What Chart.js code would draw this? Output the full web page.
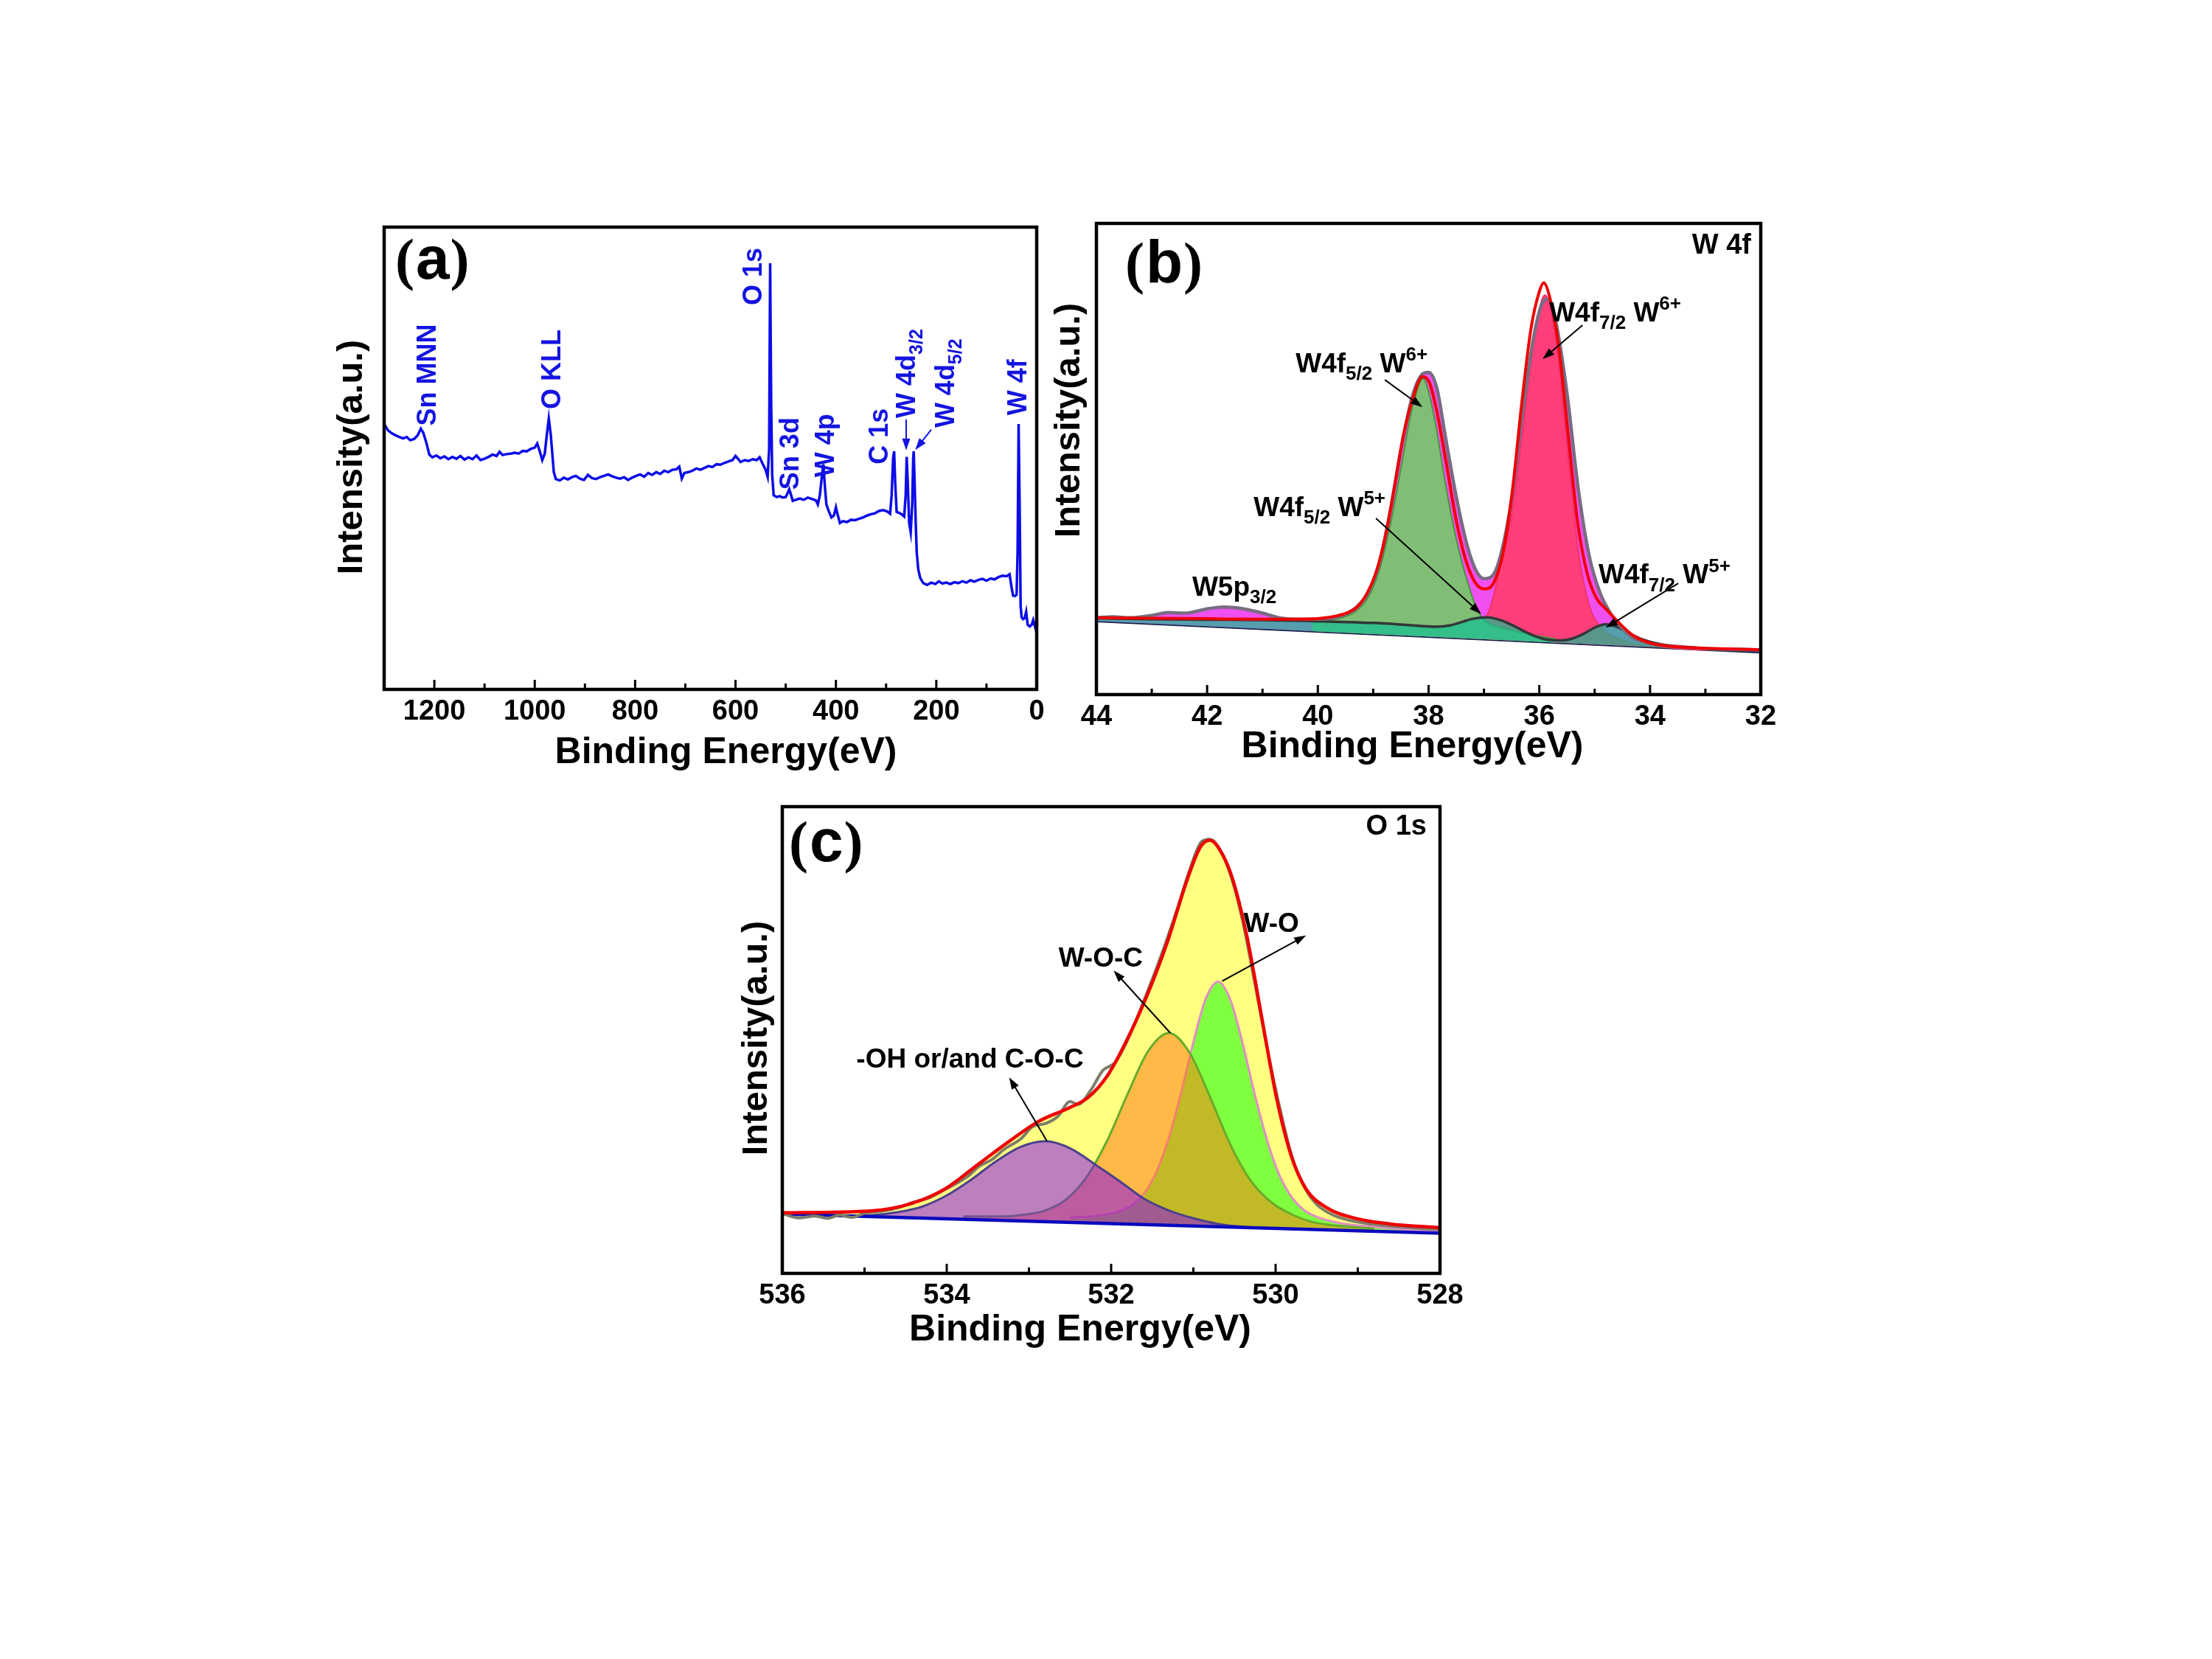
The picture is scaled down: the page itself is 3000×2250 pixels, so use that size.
<!DOCTYPE html>
<html>
<head>
<meta charset="utf-8">
<script src="https://cdn.jsdelivr.net/npm/chart.js@4.4.1/dist/chart.umd.min.js"></script>
<style>
  html, body { margin: 0; padding: 0; background: #fff; }
  #page { position: relative; width: 3000px; height: 2250px; background: #fff; }
  #page canvas { position: absolute; left: 0; top: 0; }
</style>
</head>
<body>
<div id="page">
  <canvas id="chart-a" width="3000" height="2250"></canvas>
  <canvas id="chart-b" width="3000" height="2250"></canvas>
  <canvas id="chart-c" width="3000" height="2250"></canvas>
</div>
<script>
// (a) survey spectrum, binding energy (eV) vs intensity (a.u., 0-100 of frame)
const surveyEnergy = [1300, 1292, 1285, 1278, 1270, 1262, 1255, 1248, 1240, 1233, 1227, 1222, 1216, 1210, 1204, 1196, 1188, 1180, 1172, 1164,
  1156, 1148, 1140, 1132, 1124, 1116, 1108, 1100, 1092, 1084, 1076, 1070, 1064, 1056, 1048, 1040, 1032, 1024, 1016, 1008,
  1000, 995, 990, 985, 980, 976, 972, 968, 965, 962, 958, 950, 942, 934, 926, 918, 910, 902, 894, 886,
  878, 870, 862, 854, 846, 838, 830, 822, 814, 806, 798, 790, 782, 774, 766, 758, 750, 742, 734, 726,
  718, 712, 707, 702, 694, 686, 678, 670, 662, 654, 646, 638, 630, 622, 614, 606, 600, 596, 590, 582,
  574, 566, 558, 552, 546, 540, 536, 533, 531, 529, 527, 524, 518, 512, 506, 500, 496, 493, 490, 486,
  480, 472, 464, 456, 448, 440, 436, 432, 428, 425, 422, 419, 414, 409, 404, 400, 397, 392, 386, 378,
  370, 362, 354, 346, 338, 330, 322, 314, 306, 298, 292, 289, 286, 284, 282, 279, 274, 268, 264, 261,
  259, 257, 254, 251, 248, 246, 245, 243, 241, 239, 236, 232, 226, 218, 210, 202, 195, 188, 180, 172,
  164, 156, 148, 140, 132, 124, 116, 108, 100, 92, 84, 76, 68, 60, 54, 50, 47, 43, 40, 38,
  36, 34, 32, 30, 27, 24, 21, 18, 14, 10, 7, 4, 0];
const surveyIntensity = [57.4, 56.0, 55.4, 55.0, 54.6, 54.3, 54.6, 53.9, 54.2, 55.0, 56.4, 55.5, 53.4, 50.8, 50.2, 50.6, 50.0, 50.4, 49.8, 50.3,
  49.9, 50.5, 49.7, 50.2, 49.8, 50.6, 49.6, 49.9, 50.3, 50.8, 50.5, 51.4, 50.7, 50.9, 51.0, 51.2, 51.0, 51.6, 51.5, 52.0,
  52.3, 53.2, 51.5, 49.6, 51.0, 55.0, 58.6, 55.0, 51.0, 47.0, 45.5, 45.2, 45.8, 45.4, 45.9, 46.2, 45.6, 45.3, 46.4, 45.7,
  45.5, 45.9, 46.2, 46.5, 46.1, 45.8, 45.6, 45.9, 45.3, 45.8, 46.2, 46.5, 46.0, 46.8, 46.4, 47.0, 46.6, 47.3, 47.0, 47.5,
  47.6, 48.2, 45.6, 46.8, 47.0, 47.3, 47.8, 47.5, 47.9, 48.3, 48.1, 48.7, 48.6, 49.0, 49.3, 49.6, 50.5, 50.0, 49.2, 49.6,
  49.4, 49.8, 49.6, 50.2, 48.8, 47.5, 46.0, 52.0, 92.2, 62.0, 46.5, 42.0, 41.6, 41.8, 41.5, 41.6, 42.5, 43.3, 42.3, 40.8,
  41.0, 41.3, 41.0, 41.5, 41.2, 40.9, 40.0, 42.0, 46.0, 48.7, 44.0, 40.0, 38.5, 37.2, 37.6, 39.4, 38.0, 36.0, 36.4, 36.2,
  36.7, 36.6, 36.9, 37.2, 37.6, 37.9, 38.1, 38.6, 38.8, 38.5, 38.0, 42.0, 50.0, 51.5, 45.0, 38.4, 38.2, 37.8, 37.4, 42.0,
  50.3, 45.0, 36.0, 34.0, 40.0, 50.0, 51.5, 44.0, 36.0, 29.7, 26.0, 24.1, 23.0, 22.6, 23.1, 22.8, 23.4, 22.9, 23.1, 22.8,
  23.2, 23.0, 23.4, 23.1, 23.6, 23.3, 23.7, 23.9, 23.5, 24.0, 23.8, 24.3, 24.6, 24.5, 24.9, 22.0, 20.3, 20.2, 20.5, 30.0,
  57.4, 40.0, 18.0, 15.6, 15.2, 15.4, 16.8, 14.0, 13.6, 14.0, 15.0, 13.8, 12.3];
const surveyTicks = [1200, 1000, 800, 600, 400, 200, 0];
const surveyMinorTicks = [1100, 900, 700, 500, 300, 100];

// (b) W 4f region
const w4fRawEnergy = [44.0, 43.7, 43.4, 43.0, 42.7, 42.4, 42.0, 41.7, 41.4, 41.0, 40.7, 40.3, 40.0, 39.6, 39.3, 39.1, 38.9, 38.7, 38.5, 38.3,
  38.15, 38.0, 37.85, 37.7, 37.5, 37.3, 37.15, 37.0, 36.85, 36.7, 36.5, 36.3, 36.1, 35.95, 35.85, 35.7, 35.5, 35.3, 35.1, 34.9,
  34.7, 34.5, 34.3, 34.0, 33.5, 33.0, 32.0];
const w4fRawIntensity = [16.3, 16.5, 16.3, 16.8, 17.4, 17.3, 18.2, 18.6, 18.3, 17.3, 16.3, 16.0, 16.0, 16.6, 18.6, 21.5, 27.5, 38.5, 52.0, 63.0,
  67.5, 68.4, 65.0, 55.0, 42.0, 31.5, 26.5, 24.6, 25.2, 29.5, 41.5, 60.0, 76.0, 83.0, 83.9, 79.0, 64.0, 44.0, 29.5, 21.5,
  17.0, 14.0, 12.0, 10.9, 10.2, 9.8, 9.5];
const w4fFitEnergy = [44, 43, 42, 41, 40.3, 39.8, 39.46, 39.29, 39.12, 38.95, 38.78, 38.61, 38.45, 38.28, 38.11, 37.98, 37.85, 37.68, 37.51, 37.34,
  37.17, 37.0, 36.83, 36.66, 36.49, 36.32, 36.15, 36.0, 35.92, 35.82, 35.65, 35.48, 35.31, 35.14, 34.97, 34.8, 34.55, 34.29, 33.95, 33.44, 32];
const w4fFitIntensity = [16.3, 16.2, 16.1, 16.0, 16.0, 16.4, 17.4, 18.6, 21.3, 25.9, 33.6, 44.5, 55.3, 63.0, 67.5, 66.1, 60.0, 49.1, 37.5, 29.0,
  24.0, 22.4, 23.6, 29.8, 42.9, 61.5, 77.7, 85.5, 87.4, 84.7, 73.9, 55.3, 36.7, 25.9, 20.5, 18.2, 15.1, 12.4, 10.8, 10.1, 9.5];
const w4fW5Energy = [44, 43, 42, 41, 40.1, 39, 38.4, 37.87, 37.6, 37.4, 37.2, 36.94, 36.7, 36.5, 36.3, 36.1, 35.88, 35.6, 35.4, 35.2,
  35.0, 34.81, 34.6, 34.4, 34.2, 34.0, 33.7, 33.3, 32.8, 32];
const w4fW5Intensity = [16.2, 16.0, 15.9, 15.8, 15.6, 15.2, 14.8, 14.4, 14.7, 15.4, 16.1, 16.4, 15.8, 14.8, 13.6, 12.5, 11.7, 11.5, 11.9, 12.9,
  14.2, 14.9, 14.4, 13.2, 12.0, 11.2, 10.5, 10.0, 9.6, 9.3];
const w4fW6aEnergy = [40.1, 39.7, 39.5, 39.3, 39.1, 38.9, 38.7, 38.5, 38.3, 38.1, 37.9, 37.7, 37.5, 37.3, 37.1, 36.9, 36.7, 36.5, 36.1, 35.7];
const w4fW6aIntensity = [15.2, 15.9, 16.6, 17.8, 20.5, 26.0, 35.5, 48.0, 60.5, 67.0, 59.0, 45.0, 33.0, 24.0, 17.5, 15.0, 14.2, 13.6, 12.6, 11.8];
const w4fW6bEnergy = [37.9, 37.5, 37.3, 37.1, 36.9, 36.7, 36.5, 36.3, 36.1, 35.9, 35.7, 35.5, 35.3, 35.1, 34.9, 34.7, 34.5, 34.3, 33.9, 33.5, 33.0];
const w4fW6bIntensity = [14.4, 14.6, 14.8, 15.3, 18.0, 27.5, 38.0, 56.0, 75.0, 84.8, 75.5, 53.0, 31.0, 19.0, 14.5, 12.5, 11.6, 10.8, 10.2, 9.8, 9.4];
const w4fBgEnergy = [44, 32];
const w4fBgIntensity = [15.6, 9.0];
const w4fTicks = [44, 42, 40, 38, 36, 34, 32];
const w4fMinorTicks = [43, 41, 39, 37, 35, 33];

// (c) O 1s region
const o1sRawEnergy = [536.0, 535.8, 535.6, 535.45, 535.3, 535.15, 535.0, 534.8, 534.6, 534.4, 534.2, 534.05, 533.9, 533.75, 533.6, 533.45, 533.3, 533.1, 532.95, 532.8,
  532.65, 532.5, 532.4, 532.25, 532.1, 531.95, 531.8, 531.6, 531.4, 531.2, 531.05, 530.9, 530.8, 530.7, 530.55, 530.4, 530.25, 530.1, 529.95, 529.8,
  529.65, 529.5, 529.3, 529.0, 528.6, 528.0];
const o1sRawIntensity = [12.8, 11.9, 12.3, 11.8, 12.5, 12.0, 12.9, 13.3, 14.0, 15.3, 16.3, 17.7, 19.1, 20.7, 23.0, 24.4, 26.6, 28.8, 31.5, 32.1,
  33.6, 36.8, 36.2, 39.2, 43.5, 45.2, 50.0, 58.5, 67.7, 77.9, 86.2, 92.5, 93.0, 91.5, 85.5, 75.5, 62.0, 48.0, 35.5, 25.0,
  18.5, 14.8, 12.5, 11.0, 10.1, 9.4];
const o1sFitEnergy = [536, 534.92, 534.44, 534.02, 533.6, 533.24, 532.88, 532.52, 532.28, 532.04, 531.8, 531.56, 531.32, 531.08, 530.92, 530.8, 530.68, 530.53, 530.35, 530.17,
  529.99, 529.81, 529.63, 529.39, 529.03, 528.61, 528];
const o1sFitIntensity = [13.0, 13.4, 14.9, 18.1, 23.6, 28.3, 32.6, 35.4, 37.7, 42.5, 50.3, 59.7, 70.8, 84.1, 91.2, 92.8, 90.8, 84.9, 72.3, 55.0,
  37.7, 25.2, 18.1, 14.2, 11.8, 10.6, 9.8];
const o1sOhEnergy = [535.5, 535.2, 534.9, 534.6, 534.3, 534.0, 533.7, 533.4, 533.1, 532.8, 532.5, 532.2, 531.9, 531.6, 531.3, 531.0, 530.7, 530.4, 530.1];
const o1sOhIntensity = [12.5, 12.4, 12.5, 13.1, 14.3, 16.7, 20.1, 24.0, 27.1, 28.3, 26.8, 23.4, 19.8, 16.0, 13.5, 11.8, 10.6, 10.0, 9.7];
const o1sWocEnergy = [533.8, 533.3, 533.05, 532.8, 532.55, 532.3, 532.05, 531.8, 531.55, 531.3, 531.05, 530.8, 530.55, 530.3, 530.05, 529.8, 529.55, 529.3, 528.8];
const o1sWocIntensity = [12.2, 12.2, 12.6, 13.5, 15.8, 20.6, 28.4, 38.4, 47.6, 51.5, 47.4, 37.9, 27.6, 19.8, 15.2, 12.6, 11.0, 10.3, 9.6];
const o1sWoEnergy = [532.5, 532.2, 531.9, 531.75, 531.6, 531.45, 531.3, 531.15, 531.0, 530.85, 530.7, 530.55, 530.4, 530.25, 530.1, 529.95, 529.8, 529.65, 529.5, 529.2,
  528.9, 528.5, 528.0];
const o1sWoIntensity = [12.0, 12.3, 13.3, 14.6, 17.1, 21.7, 28.9, 38.6, 49.5, 58.8, 62.5, 58.6, 49.2, 38.1, 28.3, 20.9, 16.2, 13.5, 12.1, 10.7,
  10.1, 9.5, 9.0];
const o1sBgEnergy = [536, 528];
const o1sBgIntensity = [12.7, 8.6];
const o1sTicks = [536, 534, 532, 530, 528];
const o1sMinorTicks = [535, 533, 531, 529];

const SANS = '"Liberation Sans", Arial, sans-serif';
const SERIF = '"Liberation Serif", "Times New Roman", serif';

const pts = (xs, ys) => xs.map((x, i) => ({ x: x, y: ys[i] }));

function richText(ctx, parts, x, y, size) {
    let cx = x;
    parts.forEach(p => {
        const kind = p[1] || 'n';
        const s = kind === 'n' ? size : Math.round(size * 0.7);
        const dy = kind === 'sub' ? size * 0.28 : (kind === 'sup' ? -size * 0.42 : 0);
        ctx.font = 'bold ' + s + 'px ' + SANS;
        ctx.fillText(p[0], cx, y + dy);
        cx += ctx.measureText(p[0]).width;
    });
}

function arrow(ctx, x1, y1, x2, y2, color, w, head) {
    const ang = Math.atan2(y2 - y1, x2 - x1);
    ctx.strokeStyle = color;
    ctx.fillStyle = color;
    ctx.lineWidth = w;
    ctx.beginPath();
    ctx.moveTo(x1, y1);
    ctx.lineTo(x2 - Math.cos(ang) * head * 0.8, y2 - Math.sin(ang) * head * 0.8);
    ctx.stroke();
    ctx.beginPath();
    ctx.moveTo(x2, y2);
    ctx.lineTo(x2 - head * Math.cos(ang - 0.33), y2 - head * Math.sin(ang - 0.33));
    ctx.lineTo(x2 - head * Math.cos(ang + 0.33), y2 - head * Math.sin(ang + 0.33));
    ctx.closePath();
    ctx.fill();
}

// frame, inward ticks, tick labels, axis titles and annotations
function panelPlugin(p) {
    return {
        id: 'panel_' + p.letter,
        afterDraw(chart) {
            const { ctx, chartArea: a, scales: { x, y } } = chart;
            ctx.save();
            ctx.strokeStyle = '#000';
            ctx.lineWidth = 3;
            ctx.beginPath();
            p.ticks.forEach(v => { const px = x.getPixelForValue(v); ctx.moveTo(px, a.bottom); ctx.lineTo(px, a.bottom - 13); });
            p.minor.forEach(v => { const px = x.getPixelForValue(v); ctx.moveTo(px, a.bottom); ctx.lineTo(px, a.bottom - 8); });
            ctx.stroke();
            ctx.lineWidth = 4.5;
            ctx.strokeRect(a.left, a.top, a.right - a.left, a.bottom - a.top);

            ctx.fillStyle = '#000';
            ctx.textAlign = 'center';
            ctx.textBaseline = 'middle';
            ctx.font = 'bold 38px ' + SANS;
            p.ticks.forEach(v => ctx.fillText(String(v), x.getPixelForValue(v), a.bottom + 31));

            ctx.font = 'bold 50px ' + SANS;
            ctx.fillText('Binding Energy(eV)', (a.left + a.right) / 2 + p.xTitle[0], a.bottom + p.xTitle[1]);
            ctx.save();
            ctx.translate(a.left + p.yTitle[0], a.top + p.yTitle[1]);
            ctx.rotate(-Math.PI / 2);
            ctx.font = 'bold 49px ' + SANS;
            ctx.fillText('Intensity(a.u.)', 0, 0);
            ctx.restore();

            // panel letter: serif brackets, sans letter
            ctx.textAlign = 'left';
            ctx.textBaseline = 'alphabetic';
            let lx = a.left + p.letterPos[0];
            const ly = a.top + p.letterPos[1];
            ctx.font = 'bold 78px ' + SERIF;
            ctx.fillText('(', lx, ly);
            lx += ctx.measureText('(').width + 2;
            ctx.font = 'bold 82px ' + SANS;
            ctx.fillText(p.letter, lx, ly);
            lx += ctx.measureText(p.letter).width + 1;
            ctx.font = 'bold 78px ' + SERIF;
            ctx.fillText(')', lx, ly);

            if (p.tag) {
                ctx.textAlign = 'right';
                ctx.font = 'bold 38px ' + SANS;
                ctx.fillText(p.tag, a.right + p.tagPos[0], a.top + p.tagPos[1]);
                ctx.textAlign = 'left';
            }

            (p.arrows || []).forEach(r => {
                arrow(ctx, x.getPixelForValue(r[0]), y.getPixelForValue(r[1]), x.getPixelForValue(r[2]), y.getPixelForValue(r[3]), p.noteColor, 2, 17);
            });
            ctx.fillStyle = p.noteColor;
            (p.notes || []).forEach(n => {
                const px = x.getPixelForValue(n.at[0]);
                const py = y.getPixelForValue(n.at[1]);
                if (n.vertical) {
                    ctx.save();
                    ctx.translate(px, py);
                    ctx.rotate(-Math.PI / 2);
                    richText(ctx, n.parts, 0, p.noteSize * 0.36, p.noteSize);
                    ctx.restore();
                } else {
                    richText(ctx, n.parts, px, py, p.noteSize);
                }
            });
            ctx.restore();
        }
    };
}

function makeChart(id, box, xRange, datasets, plugin) {
    new Chart(document.getElementById(id), {
        type: 'line',
        data: { datasets: datasets },
        options: {
            responsive: false,
            animation: false,
            devicePixelRatio: 1,
            layout: { padding: { left: box[0], top: box[1], right: 3000 - box[2], bottom: 2250 - box[3] } },
            elements: { point: { radius: 0 } },
            scales: {
                x: { type: 'linear', min: xRange[0], max: xRange[1], reverse: true, display: false },
                y: { min: 0, max: 100, display: false }
            },
            plugins: { legend: { display: false }, tooltip: { enabled: false } }
        },
        plugins: [plugin]
    });
}

// (a)
makeChart('chart-a', [521, 308, 1406, 935], [0, 1300], [
    { data: pts(surveyEnergy, surveyIntensity), borderColor: 'rgb(12,12,232)', borderWidth: 3.5, tension: 0, fill: false }
], panelPlugin({
    letter: 'a', letterPos: [15, 70],
    ticks: surveyTicks, minor: surveyMinorTicks,
    xTitle: [21, 86], yTitle: [-44, 312],
    noteColor: 'rgb(20,20,225)', noteSize: 36,
    notes: [
        { at: [1216, 57.0], vertical: true, parts: [['Sn MNN']] },
        { at: [968, 60.6], vertical: true, parts: [['O KLL']] },
        { at: [567, 83.1], vertical: true, parts: [['O 1s']] },
        { at: [494, 43.2], vertical: true, parts: [['Sn 3d']] },
        { at: [423, 45.9], vertical: true, parts: [['W 4p']] },
        { at: [316, 48.7], vertical: true, parts: [['C 1s']] },
        { at: [261, 58.7], vertical: true, parts: [['W 4d'], ['3/2', 'sub']] },
        { at: [183, 56.6], vertical: true, parts: [['W 4d'], ['5/2', 'sub']] },
        { at: [40, 59.3], vertical: true, parts: [['W 4f']] }
    ],
    arrows: [[260, 58.4, 260, 51.7], [210, 56.2, 242, 51.8]]
}));

// (b)
makeChart('chart-b', [1487, 303, 2388, 942], [32, 44], [
    { data: pts(w4fFitEnergy, w4fFitIntensity), borderColor: 'rgb(238,0,0)', borderWidth: 4, cubicInterpolationMode: 'monotone', fill: false },
    { data: pts(w4fRawEnergy, w4fRawIntensity), borderColor: 'rgb(120,108,130)', borderWidth: 4.5, cubicInterpolationMode: 'monotone', fill: false },
    { data: pts(w4fW5Energy, w4fW5Intensity), borderColor: 'rgb(50,55,55)', borderWidth: 3.5, backgroundColor: 'rgba(20,190,145,0.7)', cubicInterpolationMode: 'monotone', fill: 6 },
    { data: pts(w4fW6aEnergy, w4fW6aIntensity), borderColor: 'rgb(70,150,60)', borderWidth: 2, backgroundColor: 'rgb(128,190,118)', cubicInterpolationMode: 'monotone', fill: 6 },
    { data: pts(w4fW6bEnergy, w4fW6bIntensity), borderColor: 'rgb(240,50,110)', borderWidth: 2, backgroundColor: 'rgb(255,62,122)', cubicInterpolationMode: 'monotone', fill: 6 },
    { data: pts(w4fRawEnergy, w4fRawIntensity), borderWidth: 0, borderColor: 'rgba(0,0,0,0)', backgroundColor: 'rgb(240,80,240)', cubicInterpolationMode: 'monotone', fill: 6 },
    { data: pts(w4fBgEnergy, w4fBgIntensity), borderColor: 'rgb(20,30,70)', borderWidth: 3.5, tension: 0, fill: false }
], panelPlugin({
    letter: 'b', letterPos: [39, 80],
    ticks: w4fTicks, minor: w4fMinorTicks,
    xTitle: [-22, 71], yTitle: [-37, 267],
    tag: 'W 4f', tagPos: [-13, 41],
    noteColor: '#000', noteSize: 37,
    notes: [
        { at: [40.40, 68.4], parts: [['W4f'], ['5/2', 'sub'], [' W'], ['6+', 'sup']] },
        { at: [35.82, 79.2], parts: [['W4f'], ['7/2', 'sub'], [' W'], ['6+', 'sup']] },
        { at: [41.16, 37.9], parts: [['W4f'], ['5/2', 'sub'], [' W'], ['5+', 'sup']] },
        { at: [34.93, 23.6], parts: [['W4f'], ['7/2', 'sub'], [' W'], ['5+', 'sup']] },
        { at: [42.27, 21.0], parts: [['W5p'], ['3/2', 'sub']] }
    ],
    arrows: [[38.79, 66.8, 38.11, 61.0], [35.22, 78.4, 35.94, 71.2], [38.95, 37.4, 37.05, 17.1], [33.49, 23.6, 34.80, 14.2]]
}));

// (c)
makeChart('chart-c', [1061, 1094, 1953, 1727], [528, 536], [
    { data: pts(o1sFitEnergy, o1sFitIntensity), borderColor: 'rgb(238,0,0)', borderWidth: 4.5, cubicInterpolationMode: 'monotone', fill: false },
    { data: pts(o1sRawEnergy, o1sRawIntensity), borderColor: 'rgb(125,125,105)', borderWidth: 4, cubicInterpolationMode: 'monotone', fill: false },
    { data: pts(o1sBgEnergy, o1sBgIntensity), borderColor: 'rgb(10,10,190)', borderWidth: 4.5, tension: 0, fill: false },
    { data: pts(o1sOhEnergy, o1sOhIntensity), borderColor: 'rgb(75,65,140)', borderWidth: 3, backgroundColor: 'rgba(125,0,250,0.5)', cubicInterpolationMode: 'monotone', fill: 2 },
    { data: pts(o1sWocEnergy, o1sWocIntensity), borderColor: 'rgb(105,170,40)', borderWidth: 3, backgroundColor: 'rgba(255,120,15,0.52)', cubicInterpolationMode: 'monotone', fill: 2 },
    { data: pts(o1sWoEnergy, o1sWoIntensity), borderColor: 'rgb(225,140,200)', borderWidth: 3, backgroundColor: 'rgb(128,255,64)', cubicInterpolationMode: 'monotone', fill: 2 },
    { data: pts(o1sFitEnergy, o1sFitIntensity), borderWidth: 0, borderColor: 'rgba(0,0,0,0)', backgroundColor: 'rgb(255,255,130)', cubicInterpolationMode: 'monotone', fill: 2 }
], panelPlugin({
    letter: 'c', letterPos: [9, 74],
    ticks: o1sTicks, minor: o1sMinorTicks,
    xTitle: [-42, 77], yTitle: [-35, 314],
    tag: 'O 1s', tagPos: [-18, 38],
    noteColor: '#000', noteSize: 37,
    notes: [
        { at: [530.39, 73.1], parts: [['W-O']] },
        { at: [532.64, 65.7], parts: [['W-O-C']] },
        { at: [535.10, 44.1], parts: [['-OH or/and C-O-C']] }
    ],
    arrows: [[530.65, 62.6, 529.63, 72.4], [531.28, 51.5, 531.97, 64.9], [532.78, 28.3, 533.24, 42.0]]
}));
</script>
</body>
</html>
